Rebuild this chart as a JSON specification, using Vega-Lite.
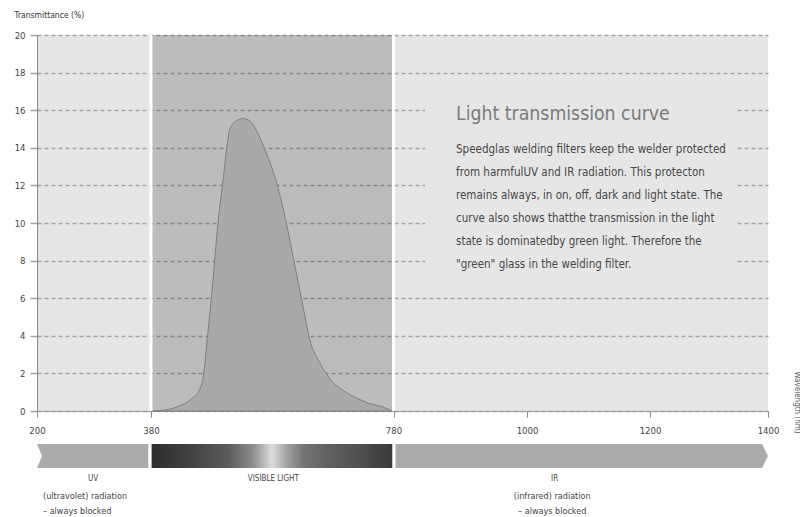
{
  "$schema": "https://vega.github.io/schema/vega-lite/v6.json",
  "padding": {"left": 14, "top": 10, "right": 0, "bottom": 0},
  "background": "white",
  "config": {
    "view": {"stroke": null},
    "concat": {"spacing": 9},
    "font": "Liberation Sans Narrow, DejaVu Sans Condensed, Arial Narrow, sans-serif",
    "text": {"font": "Liberation Sans Narrow, DejaVu Sans Condensed, Arial Narrow, sans-serif"}
  },
  "datasets": {
    "band": [{"x": 380, "x2": 780, "y": 0, "y2": 20}],
    "dividers": [{"x": 380, "y": 0, "y2": 20}, {"x": 780, "y": 0, "y2": 20}],
    "curve": [
      {"x": 383, "y": 0}, {"x": 403, "y": 0.05}, {"x": 427.5, "y": 0.28}, {"x": 447, "y": 0.64},
      {"x": 460.5, "y": 1.17}, {"x": 465.5, "y": 1.7}, {"x": 474, "y": 4.2}, {"x": 482, "y": 6.86},
      {"x": 490, "y": 9.84}, {"x": 498.5, "y": 12.18}, {"x": 507, "y": 14.47}, {"x": 510, "y": 15.0},
      {"x": 521, "y": 15.44}, {"x": 532, "y": 15.55}, {"x": 543, "y": 15.44}, {"x": 554, "y": 14.91},
      {"x": 567.5, "y": 13.94}, {"x": 587, "y": 12.16}, {"x": 603, "y": 10.04}, {"x": 614, "y": 8.26},
      {"x": 630.5, "y": 5.6}, {"x": 641.5, "y": 3.83}, {"x": 658, "y": 2.59}, {"x": 680, "y": 1.53},
      {"x": 702, "y": 0.99}, {"x": 735, "y": 0.46}, {"x": 773, "y": 0.07}, {"x": 777, "y": 0}
    ],
    "box": [{"x": 832, "x2": 1348, "y": 6.5, "y2": 17}],
    "heading": [{"x": 883, "y": 15.8, "text": "Light transmission curve"}],
    "body": [{"x": 883, "y": 13.9, "text": "Speedglas welding filters keep the welder protected\nfrom harmfulUV and IR radiation. This protecton\nremains always, in on, off, dark and light state. The\ncurve also shows thatthe transmission in the light\nstate is dominatedby green light. Therefore the\n\"green\" glass in the welding filter."}],
    "spectrum": [
      {"seg": "uv_top", "x": 200, "y": 0, "y2": 0},
      {"seg": "uv_top", "x": 208, "y": 0, "y2": 12},
      {"seg": "uv_bottom", "x": 200, "y": 24, "y2": 24},
      {"seg": "uv_bottom", "x": 208, "y": 12, "y2": 24},
      {"seg": "uv", "x": 208, "y": 0, "y2": 24},
      {"seg": "uv", "x": 375.7, "y": 0, "y2": 24},
      {"seg": "ir", "x": 783.3, "y": 0, "y2": 24},
      {"seg": "ir", "x": 1389.8, "y": 0, "y2": 24},
      {"seg": "ir", "x": 1400, "y": 12, "y2": 12}
    ],
    "visible": [{"x": 381, "x2": 778, "y": 0, "y2": 24}],
    "regionNames": [
      {"x": 288.4, "y": 35, "text": "UV"},
      {"x": 581.7, "y": 35, "text": "VISIBLE LIGHT"},
      {"x": 1045, "y": 35, "text": "IR"}
    ],
    "uvNote": [{"x": 209.5, "y": 52, "text": "(ultravolet) radiation\n– always blocked"}],
    "irNote": [{"x": 1041, "y": 52, "text": "(infrared) radiation\n– always blocked"}]
  },
  "vconcat": [
    {
      "width": 731,
      "height": 376,
      "view": {"fill": "#e6e6e6", "stroke": null},
      "encoding": {
        "x": {
          "field": "x",
          "type": "quantitative",
          "scale": {"domain": [200, 380, 780, 1000, 1200, 1400], "range": [0, 114, 356.5, 490, 613, 731], "nice": false, "zero": false},
          "axis": {
            "values": [200, 380, 780, 1000, 1200, 1400],
            "format": "d",
            "labelFlush": false,
            "grid": false,
            "tickSize": 6,
            "tickColor": "#8a8a8a",
            "domainColor": "#9a9a9a",
            "labelFontSize": 9.5,
            "labelColor": "#444444",
            "labelPadding": 8,
            "labelFont": "Liberation Sans Narrow, DejaVu Sans Condensed, sans-serif",
            "title": "Wavelength (nm)",
            "titleAngle": 90,
            "titleX": 759,
            "titleY": -9,
            "titleAlign": "center",
            "titleBaseline": "middle",
            "titleFontSize": 8,
            "titleFontWeight": "normal",
            "titleColor": "#555555",
            "titleFont": "Liberation Sans Narrow, DejaVu Sans Condensed, sans-serif"
          }
        },
        "y": {
          "field": "y",
          "type": "quantitative",
          "scale": {"domain": [0, 20], "nice": false, "zero": true},
          "axis": {
            "values": [0, 2, 4, 6, 8, 10, 12, 14, 16, 18, 20],
            "labelOverlap": false,
            "grid": true,
            "gridDash": [4, 3],
            "gridColor": "#a3a3a3",
            "gridWidth": 1.5,
            "tickSize": 7,
            "tickColor": "#a3a3a3",
            "tickWidth": 1.5,
            "domainColor": "#8a8a8a",
            "labelFontSize": 9.5,
            "labelColor": "#444444",
            "labelPadding": 5,
            "labelFont": "Liberation Sans Narrow, DejaVu Sans Condensed, sans-serif",
            "title": "Transmittance (%)",
            "titleAngle": 0,
            "titleX": -23,
            "titleY": -21,
            "titleAlign": "left",
            "titleBaseline": "middle",
            "titleFontSize": 8.5,
            "titleFontWeight": "normal",
            "titleColor": "#333333",
            "titleFont": "Liberation Sans Narrow, DejaVu Sans Condensed, sans-serif"
          }
        }
      },
      "layer": [
        {
          "data": {"name": "band"},
          "mark": {"type": "rect", "fill": "black", "opacity": 0.18},
          "encoding": {
            "x2": {"field": "x2"},
            "y2": {"field": "y2"}
          }
        },
        {
          "data": {"name": "dividers"},
          "mark": {"type": "rule", "color": "white", "strokeWidth": 3},
          "encoding": {
            "y2": {"field": "y2"}
          }
        },
        {
          "data": {"name": "curve"},
          "mark": {"type": "area", "interpolate": "monotone", "fill": "#a9a9a9", "stroke": "#7e7e7e", "strokeWidth": 1},
          "encoding": {}
        },
        {
          "data": {"name": "box"},
          "mark": {"type": "rect", "fill": "#e6e6e6"},
          "encoding": {
            "x2": {"field": "x2"},
            "y2": {"field": "y2"}
          }
        },
        {
          "data": {"name": "heading"},
          "mark": {"type": "text", "align": "left", "baseline": "middle", "fontSize": 19.3, "color": "#7a7a7a"},
          "encoding": {
            "text": {"field": "text"}
          }
        },
        {
          "data": {"name": "body"},
          "mark": {"type": "text", "align": "left", "baseline": "middle", "fontSize": 11.5, "lineHeight": 23, "lineBreak": "\n", "color": "#474747"},
          "encoding": {
            "text": {"field": "text"}
          }
        }
      ]
    },
    {
      "width": 731,
      "height": 70,
      "view": {"stroke": null},
      "encoding": {
        "x": {
          "field": "x",
          "type": "quantitative",
          "scale": {"domain": [200, 380, 780, 1000, 1200, 1400], "range": [0, 114, 356.5, 490, 613, 731], "nice": false, "zero": false},
          "axis": null
        },
        "y": {
          "field": "y",
          "type": "quantitative",
          "scale": {"domain": [0, 70], "reverse": true, "nice": false},
          "axis": null
        }
      },
      "layer": [
        {
          "data": {"name": "spectrum"},
          "mark": {"type": "area", "orient": "vertical", "color": "#aaaaaa"},
          "encoding": {
            "y2": {"field": "y2"},
            "detail": {"field": "seg"}
          }
        },
        {
          "data": {"name": "visible"},
          "mark": {
            "type": "rect",
            "fill": {
              "gradient": "linear",
              "x1": 0, "y1": 0, "x2": 1, "y2": 0,
              "stops": [
                {"offset": 0, "color": "#2e2e2e"},
                {"offset": 0.15, "color": "#404040"},
                {"offset": 0.32, "color": "#5c5c5c"},
                {"offset": 0.42, "color": "#8c8c8c"},
                {"offset": 0.5, "color": "#dcdcdc"},
                {"offset": 0.56, "color": "#a4a4a4"},
                {"offset": 0.63, "color": "#747474"},
                {"offset": 0.73, "color": "#626262"},
                {"offset": 0.86, "color": "#505050"},
                {"offset": 1, "color": "#383838"}
              ]
            }
          },
          "encoding": {
            "x2": {"field": "x2"},
            "y2": {"field": "y2"}
          }
        },
        {
          "data": {"name": "regionNames"},
          "mark": {"type": "text", "align": "center", "baseline": "middle", "fontSize": 8, "color": "#444444"},
          "encoding": {"text": {"field": "text"}}
        },
        {
          "data": {"name": "uvNote"},
          "mark": {"type": "text", "align": "left", "baseline": "middle", "fontSize": 9, "lineHeight": 15, "lineBreak": "\n", "color": "#444444"},
          "encoding": {"text": {"field": "text"}}
        },
        {
          "data": {"name": "irNote"},
          "mark": {"type": "text", "align": "center", "baseline": "middle", "fontSize": 9, "lineHeight": 15, "lineBreak": "\n", "color": "#444444"},
          "encoding": {"text": {"field": "text"}}
        }
      ]
    }
  ]
}
